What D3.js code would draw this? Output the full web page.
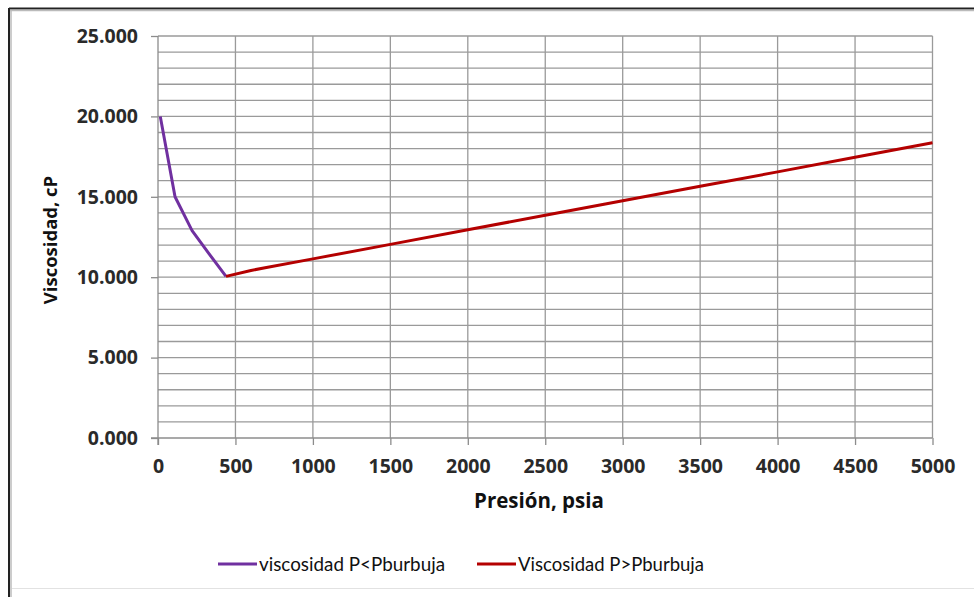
<!DOCTYPE html>
<html><head><meta charset="utf-8">
<script src="https://cdn.jsdelivr.net/npm/d3@7"></script>
<style>body{margin:0;background:#fff}svg{display:block}</style>
</head><body>
<svg id="c" width="974" height="597"></svg>
<script>
const purpleP = [14.7, 110, 220, 330, 439];
const purpleV = [20.0, 15.0, 12.9, 11.45, 10.05];
const redP = [439, 600, 700, 1000, 1500, 2000, 2500, 3000, 3500, 4000, 4500, 5000];
const redV = [10.05, 10.42, 10.6, 11.14, 12.04, 12.95, 13.85, 14.75, 15.65, 16.55, 17.46, 18.36];
const xTicks = [0, 500, 1000, 1500, 2000, 2500, 3000, 3500, 4000, 4500, 5000];
const yTicks = [0, 5, 10, 15, 20, 25];
const yMinor = d3.range(0, 26, 1);
const seriesNames = ["viscosidad P<Pburbuja", "Viscosidad P>Pburbuja"];
const seriesColors = ["#7030a0", "#b40000"];
const xTitle = "Presión, psia";
const yTitle = "Viscosidad, cP";

const svg = d3.select("#c");
const L = 158, R = 932.5, T = 36, B = 438;
const x = d3.scaleLinear().domain([0, 5000]).range([L, R]);
const y = d3.scaleLinear().domain([0, 25]).range([B, T]);

// frame
svg.append("rect").attr("x", 0).attr("y", 0).attr("width", 974).attr("height", 597).attr("fill", "#fff");
svg.append("line").attr("x1", 9).attr("x2", 974).attr("y1", 8.5).attr("y2", 8.5).attr("stroke", "#222").attr("stroke-width", 2);
svg.append("line").attr("x1", 9).attr("x2", 974).attr("y1", 10.5).attr("y2", 10.5).attr("stroke", "#bbb").attr("stroke-width", 1.5);
svg.append("line").attr("x1", 9).attr("x2", 9).attr("y1", 8).attr("y2", 597).attr("stroke", "#222").attr("stroke-width", 2);
svg.append("line").attr("x1", 11).attr("x2", 11).attr("y1", 10).attr("y2", 597).attr("stroke", "#bbb").attr("stroke-width", 1.5);
svg.append("line").attr("x1", 12).attr("x2", 974).attr("y1", 588.5).attr("y2", 588.5).attr("stroke", "#e2e2e2").attr("stroke-width", 1);

const grid = svg.append("g").attr("stroke", "#9a9a9a").attr("stroke-width", 1.3);
grid.selectAll(".h").data(yMinor.filter(d => d > 0)).join("line")
  .attr("x1", L).attr("x2", R).attr("y1", d => y(d)).attr("y2", d => y(d));
grid.selectAll(".v").data(xTicks.filter(d => d > 0)).join("line")
  .attr("x1", d => x(d)).attr("x2", d => x(d)).attr("y1", T).attr("y2", B);

// axes
const font = "'Open Sans', 'Liberation Sans', sans-serif";
const yAxis = d3.axisLeft(y).tickValues(yTicks).tickSize(7).tickPadding(13).tickFormat(d3.format(".3f"));
const gy = svg.append("g").attr("transform", `translate(${L},0)`).call(yAxis);
const xAxis = d3.axisBottom(x).tickValues(xTicks).tickSize(7).tickPadding(14).tickFormat(d3.format("d"));
const gx = svg.append("g").attr("transform", `translate(0,${B})`).call(xAxis);
[gx, gy].forEach(g => {
  g.select(".domain").remove();
  g.selectAll(".tick line").attr("stroke", "#8c8c8c").attr("stroke-width", 1.3);
  g.selectAll("text").attr("fill", "#2a2a2a").style("font-family", font).style("font-weight", "700").style("font-size", "19.5px");
});
svg.append("line").attr("x1", L).attr("x2", L).attr("y1", T).attr("y2", B + 7).attr("stroke", "#8c8c8c").attr("stroke-width", 1.3);
svg.append("line").attr("x1", L - 7).attr("x2", R).attr("y1", B).attr("y2", B).attr("stroke", "#8c8c8c").attr("stroke-width", 1.3);

// titles
svg.append("text").attr("x", 539).attr("y", 508).attr("text-anchor", "middle")
  .style("font-family", font).style("font-weight", "700").style("font-size", "20.5px").attr("fill", "#111").text(xTitle);
svg.append("text").attr("transform", "translate(57,240) rotate(-90)").attr("text-anchor", "middle")
  .style("font-family", font).style("font-weight", "700").style("font-size", "18.5px").attr("fill", "#111").text(yTitle);

// lines
const line = d3.line().x(d => x(d[0])).y(d => y(d[1]));
const purple = purpleP.map((p, i) => [p, purpleV[i]]);
const red = redP.map((p, i) => [p, redV[i]]);
svg.append("path").datum(purple).attr("d", line).attr("fill", "none").attr("stroke", seriesColors[0]).attr("stroke-width", 3).attr("stroke-linejoin", "round");
svg.append("path").datum(red).attr("d", line).attr("fill", "none").attr("stroke", seriesColors[1]).attr("stroke-width", 3).attr("stroke-linejoin", "round");

// legend
const leg = [{x1: 218, x2: 257, tx: 259}, {x1: 477, x2: 516, tx: 518}];
leg.forEach((l, i) => {
  svg.append("line").attr("x1", l.x1).attr("x2", l.x2).attr("y1", 564).attr("y2", 564).attr("stroke", seriesColors[i]).attr("stroke-width", 3);
  svg.append("text").attr("x", l.tx).attr("y", 571).style("font-family", "Lato, 'Open Sans', sans-serif").style("font-size", "19.5px").attr("fill", "#111")
    .attr("textLength", 186).attr("lengthAdjust", "spacingAndGlyphs").text(seriesNames[i]);
});
</script>
</body></html>
